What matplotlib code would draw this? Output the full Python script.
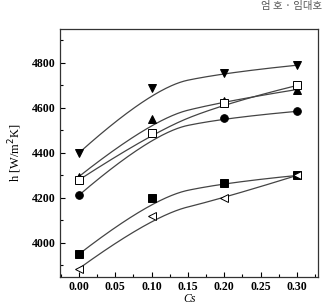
import numpy as np
import matplotlib
matplotlib.use('Agg')
import matplotlib.pyplot as plt
from matplotlib.ticker import MultipleLocator

cs = [0.0, 0.1, 0.2, 0.3]
h_down_tri = [4400, 4690, 4757, 4790]
h_up_tri = [4295, 4550, 4630, 4682]
h_circle = [4212, 4489, 4556, 4585]
h_open_sq = [4280, 4489, 4620, 4700]
h_square = [3950, 4200, 4268, 4300]
h_left_tri = [3886, 4120, 4200, 4300]

plt.rcParams['font.family'] = ['Liberation Serif', 'DejaVu Serif']


def bspline(px, py, n=200, k=2):
    # clamped B-spline through the points as control points (Origin style)
    P = np.column_stack([px, py]).astype(float)
    m = len(P)
    knots = np.concatenate([np.zeros(k), np.linspace(0, 1, m - k + 1), np.ones(k)])
    out = []
    for u in np.linspace(0, 1, n):
        if u >= 1:
            out.append(P[-1])
            continue
        j = np.searchsorted(knots, u, side='right') - 1
        d = [P[i] for i in range(j - k, j + 1)]
        for r in range(1, k + 1):
            for i in range(k, r - 1, -1):
                ii = i + j - k
                a = (u - knots[ii]) / (knots[ii + k + 1 - r] - knots[ii])
                d[i] = (1 - a) * d[i - 1] + a * d[i]
        out.append(d[k])
    out = np.array(out)
    return out[:, 0], out[:, 1]


fig = plt.figure(figsize=(3.27, 3.04), dpi=100)
ax = fig.add_axes([0.1835, 0.0898, 0.789, 0.8148])

series = [
    (h_down_tri, 'v', 'black'),
    (h_up_tri, '^', 'black'),
    (h_circle, 'o', 'black'),
    (h_open_sq, 's', 'white'),
    (h_square, 's', 'black'),
    (h_left_tri, '<', 'white'),
]

for vals, mk, fc in series:
    bx, by = bspline(cs, vals)
    ax.plot(bx, by, color='#444444', lw=0.9, zorder=2)
for vals, mk, fc in series:
    ax.plot(cs, vals, linestyle='none', marker=mk, ms=5.5, mfc=fc,
            mec='black', mew=0.7, zorder=3)

ax.set_xlim(-0.026, 0.329)
ax.set_ylim(3850, 4951)
ax.xaxis.set_major_locator(MultipleLocator(0.05))
ax.xaxis.set_minor_locator(MultipleLocator(0.025))
ax.yaxis.set_major_locator(MultipleLocator(200))
ax.yaxis.set_minor_locator(MultipleLocator(100))
ax.tick_params(which='both', direction='in', top=False, right=False)
ax.tick_params(which='major', length=3.5, width=0.8, pad=3)
ax.tick_params(which='minor', length=2, width=0.8)
ax.xaxis.set_major_formatter(plt.FuncFormatter(lambda v, p: f"{v:.2f}"))
for lbl in ax.get_xticklabels() + ax.get_yticklabels():
    lbl.set_fontweight('bold')
    lbl.set_fontsize(8.5)
for s in ax.spines.values():
    s.set_linewidth(0.9)
    s.set_color('#333333')

fig.text(0.58, -0.004, 'Cs', ha='center', va='bottom', fontsize=8.5, style='italic')
ax.set_ylabel(r'h [W/m$^2$K]', fontsize=9, labelpad=6)

fig.text(0.985, 0.998, '엄 호 · 임대호', ha='right', va='top', fontsize=7.5,
         color='#555555', family=['Noto Sans CJK KR', 'DejaVu Sans'])

fig.savefig('out.png', dpi=100)
